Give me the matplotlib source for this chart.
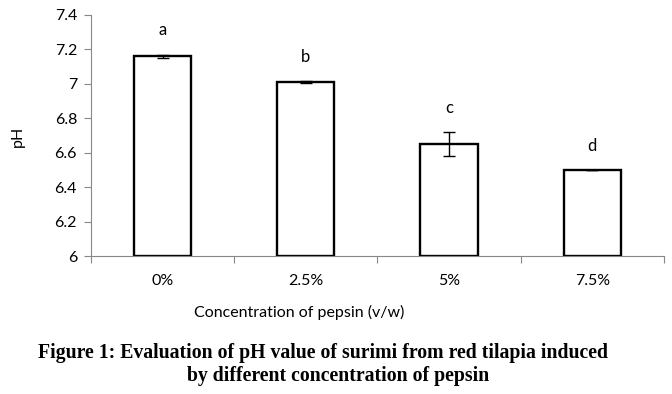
import numpy as np
import matplotlib
matplotlib.use('Agg')
import matplotlib.pyplot as plt

# data
concentrations = ['0%', '2.5%', '5%', '7.5%']
ph_mean = [7.16, 7.01, 6.65, 6.50]
ph_err = [0.01, 0.004, 0.07, 0.0]
letters = ['a', 'b', 'c', 'd']

plt.rcParams['font.family'] = ['Lato', 'DejaVu Sans']

fig = plt.figure(figsize=(6.72, 3.94), dpi=100)
ax = fig.add_axes([0.1354, 0.350, 0.8526, 0.612])

x = np.arange(len(concentrations))
ax.bar(x, np.array(ph_mean) - 6, bottom=6, width=0.4, color='white',
       edgecolor='black', linewidth=1.7, zorder=2)
ax.errorbar(x, ph_mean, yerr=ph_err, fmt='none', ecolor='black',
            elinewidth=1.0, capsize=4, capthick=1.0, zorder=3)

for xi, m, e, lab in zip(x, ph_mean, ph_err, letters):
    ax.text(xi, m + e + 0.14, lab, ha='center', va='center', fontsize=12)

ax.set_xlim(-0.5, len(concentrations) - 0.5)
ax.set_ylim(6, 7.4)
ax.set_yticks(np.arange(6, 7.41, 0.2))
ax.set_yticklabels(['6', '6.2', '6.4', '6.6', '6.8', '7', '7.2', '7.4'])

# category separators as x ticks, labels at centres
ax.set_xticks(np.arange(-0.5, len(concentrations), 1.0))
ax.set_xticklabels([])
ax.set_xticks(x, minor=True)
ax.set_xticklabels(concentrations, minor=True)
ax.tick_params(axis='x', which='major', length=5, color='#888888', width=0.8)
ax.tick_params(axis='x', which='minor', length=0, pad=13, labelsize=11.5)
ax.tick_params(axis='y', length=5, color='#888888', width=0.8, labelsize=11.5, pad=5)

for side in ['top', 'right']:
    ax.spines[side].set_visible(False)
for side in ['left', 'bottom']:
    ax.spines[side].set_color('#888888')
    ax.spines[side].set_linewidth(0.8)

fig.text(18 / 672, 1 - 136 / 394, 'pH', rotation=90, ha='center', va='center', fontsize=11.5)
fig.text(299 / 672, 1 - 312 / 394, 'Concentration of pepsin (v/w)', ha='center',
         va='center', fontsize=11.5)

fig.text(323 / 672, 1 - 353 / 394,
         'Figure 1: Evaluation of pH value of surimi from red tilapia induced',
         ha='center', va='center', fontsize=14.2, fontweight='bold',
         family='Liberation Serif')
fig.text(338 / 672, 1 - 376 / 394, 'by different concentration of pepsin',
         ha='center', va='center', fontsize=14.2, fontweight='bold',
         family='Liberation Serif')

fig.savefig('out.png', dpi=100)
